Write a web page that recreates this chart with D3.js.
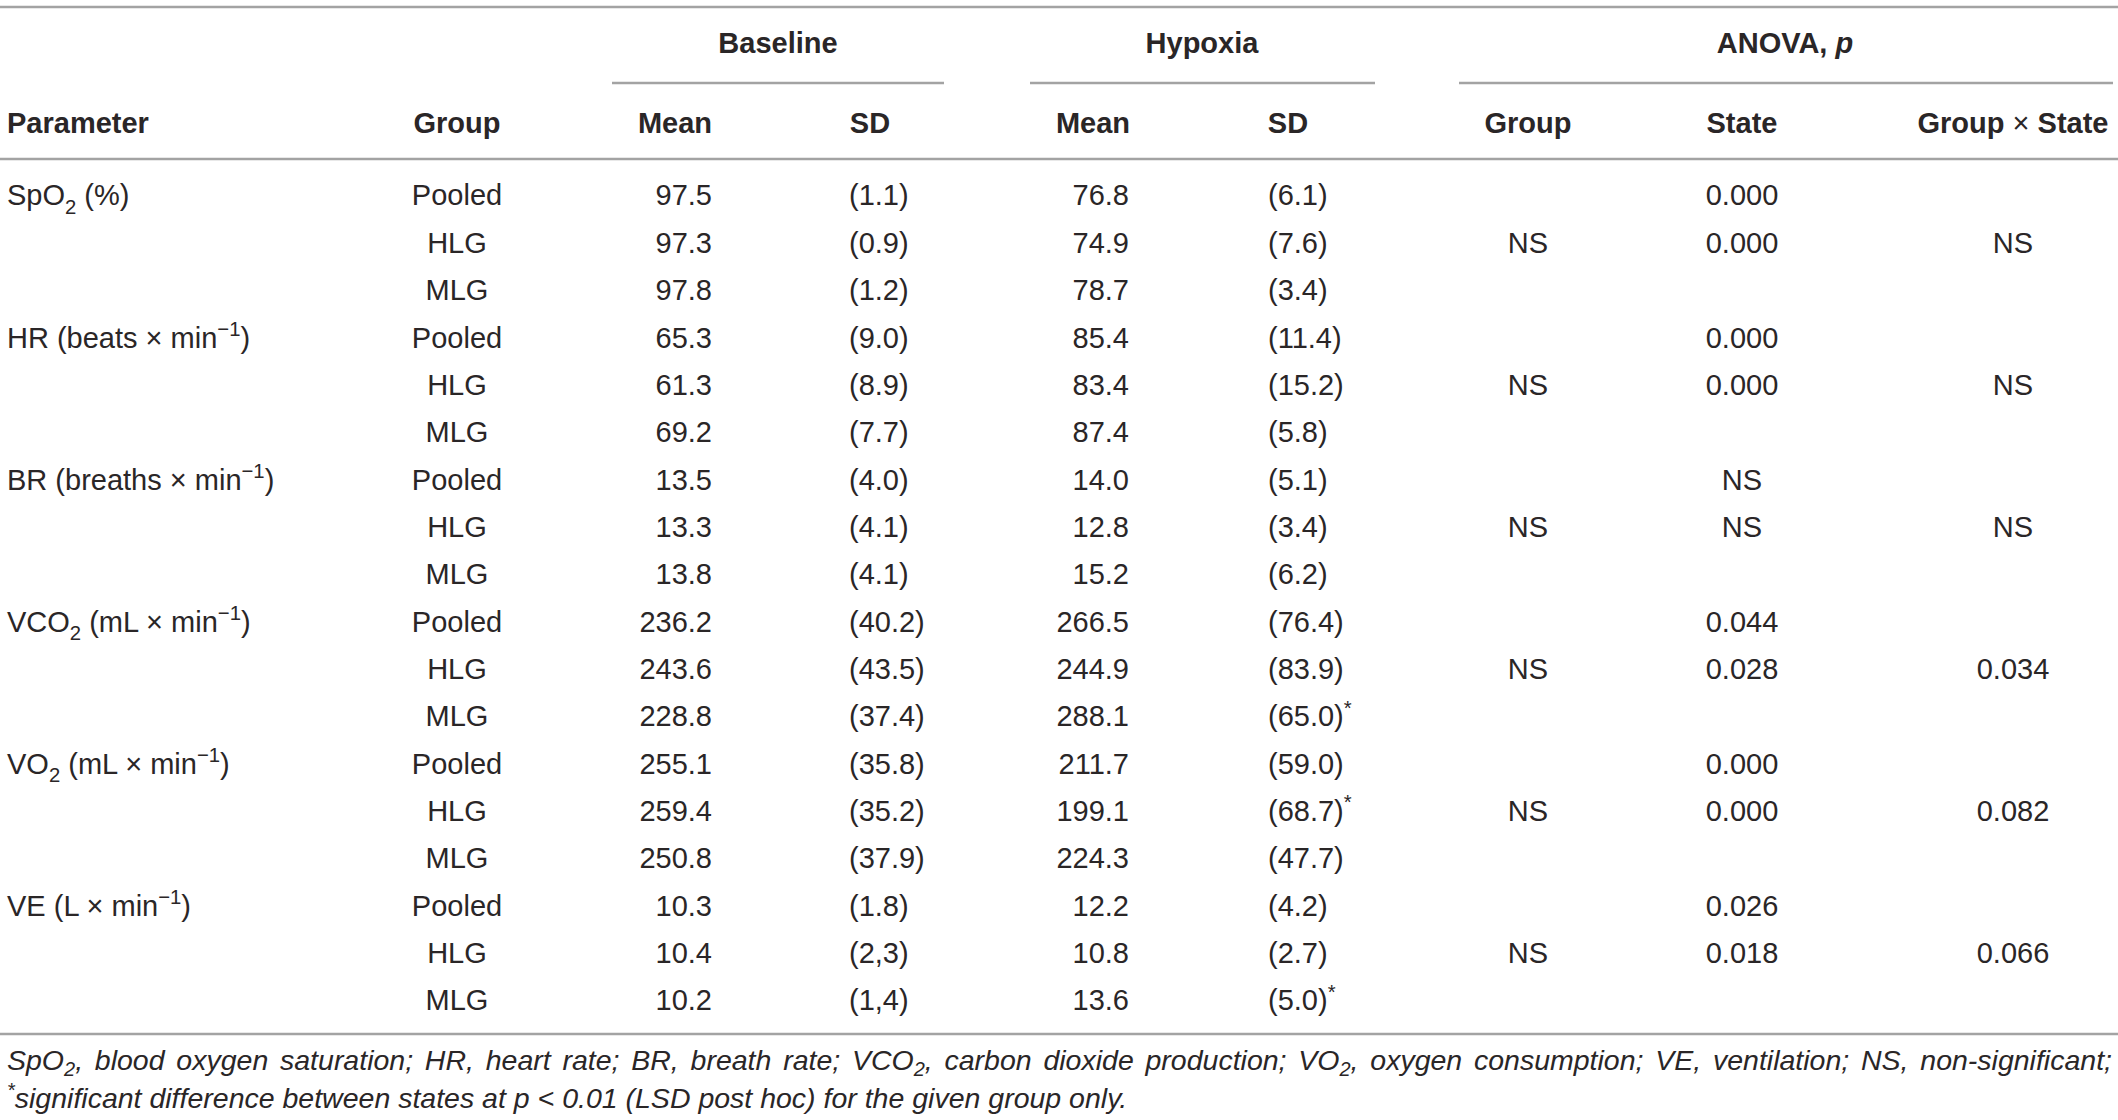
<!DOCTYPE html>
<html>
<head>
<meta charset="utf-8">
<script src="https://cdn.jsdelivr.net/npm/d3@7/dist/d3.min.js"></script>
<style>
  body { margin: 0; background: #fff; }
  svg text { font-family: "Liberation Sans", Arial, sans-serif; fill: #2a2627; }
</style>
</head>
<body>
<div id="chart"></div>
<script>
// "_2" = subscript, "^−1" = superscript, "*" = superscript mark
var parameters = ["SpO_2 (%)", "HR (beats × min^−1)", "BR (breaths × min^−1)",
                  "VCO_2 (mL × min^−1)", "VO_2 (mL × min^−1)", "VE (L × min^−1)"];
var groups = ["Pooled", "HLG", "MLG"];

var baselineMean = [97.5, 97.3, 97.8, 65.3, 61.3, 69.2, 13.5, 13.3, 13.8,
                    236.2, 243.6, 228.8, 255.1, 259.4, 250.8, 10.3, 10.4, 10.2];
var baselineSD = ["(1.1)", "(0.9)", "(1.2)", "(9.0)", "(8.9)", "(7.7)", "(4.0)", "(4.1)", "(4.1)",
                  "(40.2)", "(43.5)", "(37.4)", "(35.8)", "(35.2)", "(37.9)", "(1.8)", "(2,3)", "(1,4)"];
var hypoxiaMean = [76.8, 74.9, 78.7, 85.4, 83.4, 87.4, 14.0, 12.8, 15.2,
                   266.5, 244.9, 288.1, 211.7, 199.1, 224.3, 12.2, 10.8, 13.6];
var hypoxiaSD = ["(6.1)", "(7.6)", "(3.4)", "(11.4)", "(15.2)", "(5.8)", "(5.1)", "(3.4)", "(6.2)",
                 "(76.4)", "(83.9)", "(65.0)*", "(59.0)", "(68.7)*", "(47.7)", "(4.2)", "(2.7)", "(5.0)*"];

// ANOVA p, one value per parameter (Group, Group x State sit on HLG row)
var anovaGroup = ["NS", "NS", "NS", "NS", "NS", "NS"];
var anovaStatePooled = ["0.000", "0.000", "NS", "0.044", "0.000", "0.026"];
var anovaStateHLG = ["0.000", "0.000", "NS", "0.028", "0.000", "0.018"];
var anovaInteraction = ["NS", "NS", "NS", "0.034", "0.082", "0.066"];

var spanHeaders = ["Baseline", "Hypoxia", "ANOVA, p"];
var columnHeaders = ["Parameter", "Group", "Mean", "SD", "Mean", "SD", "Group", "State", "Group × State"];

var footnote1 = "SpO_2, blood oxygen saturation; HR, heart rate; BR, breath rate; VCO_2, carbon dioxide production; VO_2, oxygen consumption; VE, ventilation; NS, non-significant;";
var footnote2 = "*significant difference between states at p < 0.01 (LSD post hoc) for the given group only.";

var width = 2118, height = 1120;
var fontSize = 29;
var noteSize = 28.5;

var svg = d3.select("#chart").append("svg")
    .attr("width", width)
    .attr("height", height);

// build rows
var rows = [];
parameters.forEach(function(p, i) {
  groups.forEach(function(g, j) {
    var k = i * 3 + j;
    rows.push({
      param: j === 0 ? p : "",
      group: g,
      bMean: baselineMean[k].toFixed(1),
      bSD: baselineSD[k],
      hMean: hypoxiaMean[k].toFixed(1),
      hSD: hypoxiaSD[k],
      aGroup: j === 1 ? anovaGroup[i] : "",
      aState: j === 0 ? anovaStatePooled[i] : (j === 1 ? anovaStateHLG[i] : ""),
      aInter: j === 1 ? anovaInteraction[i] : ""
    });
  });
});

var keys = ["param", "group", "bMean", "bSD", "hMean", "hSD", "aGroup", "aState", "aInter"];

var colX = d3.scaleOrdinal().domain(keys)
    .range([7, 457, 712, 849, 1129, 1268, 1528, 1742, 2013]);
var colAnchor = d3.scaleOrdinal().domain(keys)
    .range(["start", "middle", "end", "start", "end", "start", "middle", "middle", "middle"]);
var headX = d3.scaleOrdinal().domain(keys)
    .range([7, 457, 675, 870, 1093, 1288, 1528, 1742, 2013]);
var headAnchor = d3.scaleOrdinal().domain(keys)
    .range(["start", "middle", "middle", "middle", "middle", "middle", "middle", "middle", "middle"]);

var y = d3.scalePoint()
    .domain(d3.range(rows.length))
    .range([195, 1000]);

// text whose vertical centre sits at cy
function label(parent, x, cy, size) {
  return parent.append("text")
    .attr("x", x)
    .attr("y", cy + size * 0.36)
    .attr("font-size", size);
}

// rich text: sub/superscripts
function rich(sel, str, subShift) {
  var sub = subShift || 0.28;
  var parts = str.split(/(_\d|\^−1|\*)/).filter(function(s) { return s !== ""; });
  var shift = 0;
  parts.forEach(function(s) {
    var t = sel.append("tspan");
    var target = 0, txt = s, small = false;
    if (s[0] === "_") { target = sub; txt = s.slice(1); small = true; }
    else if (s[0] === "^") { target = -0.4; txt = s.slice(1); small = true; }
    else if (s === "*") { target = -0.4; small = true; }
    if (small) {
      t.attr("font-size", "0.7em");
      if (target !== shift) t.attr("dy", ((target - shift) / 0.7) + "em");
    } else if (target !== shift) {
      t.attr("dy", (target - shift) + "em");
    }
    t.text(txt);
    shift = target;
  });
  return sel;
}

// lines
var lineColor = "#a3a3a3";
function hline(x1, x2, yy) {
  svg.append("line")
    .attr("x1", x1).attr("x2", x2)
    .attr("y1", yy).attr("y2", yy)
    .attr("stroke", lineColor)
    .attr("stroke-width", 2.5);
}
hline(0, width, 7);
hline(612, 944, 83);
hline(1030, 1375, 83);
hline(1459, 2113, 83);
hline(0, width, 159);
hline(0, width, 1034);

// span headers
var spanX = [778, 1202, 1785];
spanHeaders.forEach(function(h, i) {
  var t = label(svg, spanX[i], 43, fontSize)
    .attr("text-anchor", "middle")
    .attr("font-weight", "bold");
  if (h.indexOf(", p") > -1) {
    t.append("tspan").text("ANOVA, ");
    t.append("tspan").attr("font-style", "italic").text("p");
  } else {
    t.text(h);
  }
});

// column headers
columnHeaders.forEach(function(h, i) {
  var t = label(svg, headX(keys[i]), 123, fontSize)
    .attr("text-anchor", headAnchor(keys[i]))
    .attr("font-weight", "bold");
  if (h.indexOf("×") > -1) {
    t.append("tspan").text("Group ");
    t.append("tspan").attr("font-weight", "normal").text("×");
    t.append("tspan").text(" State");
  } else {
    t.text(h);
  }
});

// body
var rowG = svg.selectAll("g.row")
  .data(rows)
  .enter()
  .append("g")
  .attr("class", "row")
  .attr("transform", function(d, i) { return "translate(0," + y(i) + ")"; });

keys.forEach(function(k) {
  rowG.each(function(d) {
    if (d[k] === "") return;
    var t = label(d3.select(this), colX(k), 0, fontSize)
      .attr("text-anchor", colAnchor(k));
    rich(t, d[k]);
  });
});

// footnotes
var fn1 = label(svg, 7, 1060, noteSize).attr("font-style", "italic");
rich(fn1, footnote1, 0.2);
var w1 = fn1.node().getComputedTextLength();
var nSpaces = footnote1.split(" ").length - 1;
fn1.attr("word-spacing", Math.max(0, (2112 - 7 - w1) / nSpaces));

var fn2 = label(svg, 7, 1098, noteSize).attr("font-style", "italic");
rich(fn2, footnote2);
</script>
</body>
</html>
